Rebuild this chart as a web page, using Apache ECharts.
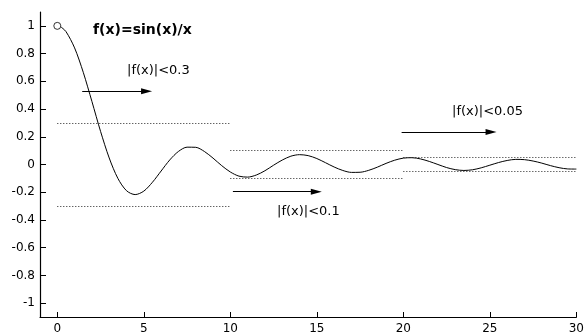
<!DOCTYPE html>
<html>
<head>
<meta charset="utf-8">
<script src="https://cdn.jsdelivr.net/npm/echarts@6/dist/echarts.min.js"></script>
<style>
html,body{margin:0;padding:0;background:#fff;}
#chart{width:587px;height:335px;}
</style>
</head>
<body>
<div id="chart"></div>
<script>
// ---- data ----
var xValues = [0.2,0.5,1,1.5,2,2.5,3,3.5,4,4.5,5,5.5,6,6.5,7,7.5,8,8.5,9,9.5,10,10.5,11,11.5,12,12.5,13,13.5,14,14.5,15,15.5,16,16.5,17,17.5,18,18.5,19,19.5,20,20.5,21,21.5,22,22.5,23,23.5,24,24.5,25,25.5,26,26.5,27,27.5,28,28.5,29,29.5,30];
var yValues = [0.993,0.959,0.841,0.665,0.455,0.239,0.047,-0.100,-0.189,-0.217,-0.192,-0.128,-0.047,0.033,0.094,0.125,0.124,0.094,0.046,-0.008,-0.054,-0.084,-0.091,-0.076,-0.045,-0.005,0.032,0.060,0.071,0.064,0.043,0.013,-0.018,-0.043,-0.057,-0.056,-0.042,-0.019,0.008,0.031,0.046,0.049,0.040,0.022,0.000,-0.022,-0.037,-0.043,-0.038,-0.024,-0.005,0.014,0.029,0.037,0.035,0.025,0.010,-0.008,-0.023,-0.032,-0.033];
var openPoint = [0, 1];
// threshold segments: [xStart, xEnd, bound]
var thresholdStart = [0, 10, 20];
var thresholdEnd = [10, 20, 30];
var thresholdBound = [0.3, 0.1, 0.05];
// arrows: start x, end x, y
var arrowStartX = [1.44, 10.15, 19.9];
var arrowEndX = [5.16, 14.97, 25.07];
var arrowY = [0.529, -0.196, 0.235];
var xTickValues = [0,5,10,15,20,25,30];
var yTickValues = [-1,-0.8,-0.6,-0.4,-0.2,0,0.2,0.4,0.6,0.8,1];
var titleText = 'f(x)=sin(x)/x';
var noteTexts = ['|f(x)|<0.3', '|f(x)|<0.1', '|f(x)|<0.05'];

// ---- build ----
var curve = xValues.map(function (x, i) { return [x, yValues[i]]; });
var dotLines = [];
for (var i = 0; i < thresholdBound.length; i++) {
  dotLines.push([{coord: [thresholdStart[i], thresholdBound[i]]}, {coord: [thresholdEnd[i], thresholdBound[i]]}]);
  dotLines.push([{coord: [thresholdStart[i], -thresholdBound[i]]}, {coord: [thresholdEnd[i], -thresholdBound[i]]}]);
}
var arrows = [];
for (var j = 0; j < arrowY.length; j++) {
  arrows.push([{coord: [arrowStartX[j], arrowY[j]]}, {coord: [arrowEndX[j], arrowY[j]]}]);
}

var FONT = 'DejaVu Sans';
var chart = echarts.init(document.getElementById('chart'), null, {renderer: 'canvas'});
chart.setOption({
  animation: false,
  backgroundColor: '#fff',
  grid: {left: 40, right: 9, top: 12, bottom: 17},
  xAxis: {
    type: 'value', min: -1, max: 30,
    splitLine: {show: false},
    axisLine: {onZero: false, lineStyle: {color: '#000', width: 1.2}},
    axisTick: {inside: true, length: 5, customValues: xTickValues, lineStyle: {color: '#000'}},
    axisLabel: {customValues: xTickValues, color: '#000', fontFamily: FONT, fontSize: 12, margin: 6}
  },
  yAxis: {
    type: 'value', min: -1.1, max: 1.1,
    splitLine: {show: false},
    axisLine: {show: true, onZero: false, lineStyle: {color: '#000', width: 1.2}},
    axisTick: {show: true, inside: true, length: 6, customValues: yTickValues, lineStyle: {color: '#000'}},
    axisLabel: {customValues: yTickValues, color: '#000', fontFamily: FONT, fontSize: 12, margin: 5,
      formatter: function (v) { return String(Math.round(v * 10) / 10); }}
  },
  series: [
    {
      type: 'line', data: curve, smooth: 0.3, symbol: 'none',
      lineStyle: {color: '#000', width: 1}, z: 3,
      markLine: {
        silent: true, symbol: ['none', 'none'],
        label: {show: false},
        lineStyle: {color: '#222', width: 1, type: [1, 2]},
        data: dotLines
      }
    },
    {
      type: 'line', data: [], symbol: 'none',
      markLine: {
        silent: true, symbol: ['none', 'triangle'], symbolSize: [6, 11],
        label: {show: false},
        lineStyle: {color: '#000', width: 1, type: 'solid'},
        itemStyle: {color: '#000'},
        data: arrows
      }
    },
    {
      type: 'scatter', data: [openPoint], symbol: 'circle', symbolSize: 7,
      itemStyle: {color: '#fff', borderColor: '#000', borderWidth: 1}, z: 5
    }
  ],
  graphic: [
    {type: 'text', x: 93, y: 30, style: {text: titleText, font: 'bold 14px "DejaVu Sans"', fill: '#000', verticalAlign: 'middle'}},
    {type: 'text', x: 127, y: 71, style: {text: noteTexts[0], font: '13px "DejaVu Sans"', fill: '#000', verticalAlign: 'middle'}},
    {type: 'text', x: 277, y: 212, style: {text: noteTexts[1], font: '13px "DejaVu Sans"', fill: '#000', verticalAlign: 'middle'}},
    {type: 'text', x: 452, y: 112, style: {text: noteTexts[2], font: '13px "DejaVu Sans"', fill: '#000', verticalAlign: 'middle'}}
  ]
});
</script>
</body>
</html>
